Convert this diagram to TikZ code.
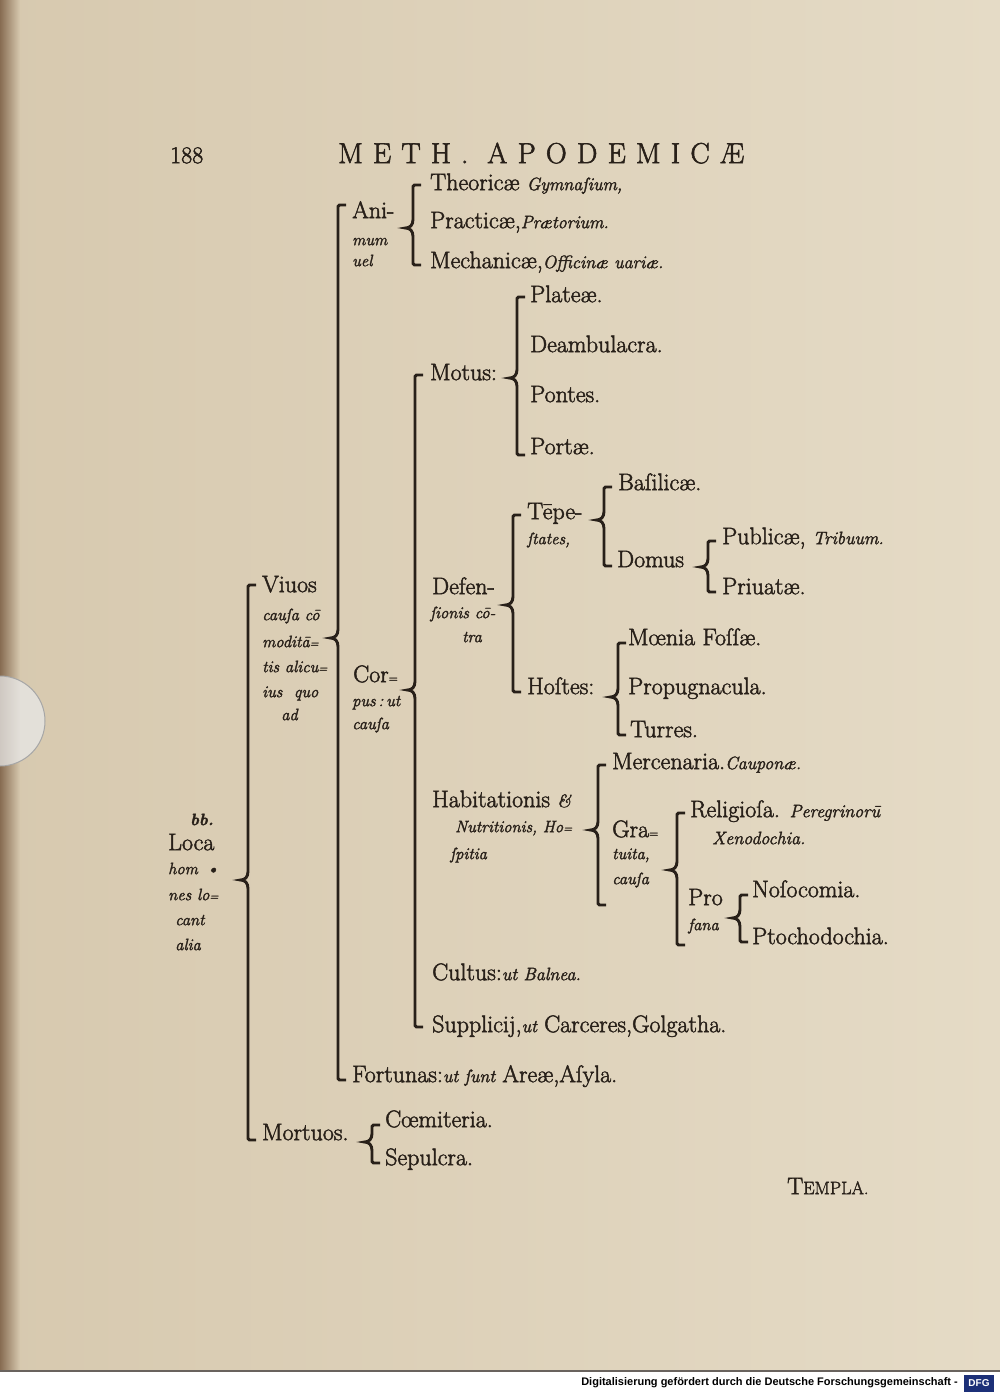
\documentclass[tikz,border=0pt]{standalone}
\usepackage{fontspec}
\setmainfont{Latin Modern Roman}[FakeBold=2]
\newfontfamily\dfgfont{Liberation Sans}
\definecolor{paper}{RGB}{229,219,198}
\definecolor{paperdark}{RGB}{215,201,175}
\definecolor{ink}{RGB}{40,32,25}
\definecolor{gutter}{RGB}{135,108,82}
\definecolor{dfgblue}{RGB}{28,48,120}
\newcommand\sm[1]{{\itshape\fontsize{18}{21}\selectfont #1}}
\newcommand\hy{{\fontsize{12}{12}\selectfont =}}
\newcommand\brk[4]{\draw[brk] (#1+8,#2) -- (#1,#2) -- (#1,#4-10) .. controls (#1,#4-3) and (#1-3,#4) .. (#1-9,#4) .. controls (#1-3,#4) and (#1,#4+3) .. (#1,#4+10) -- (#1,#3) -- (#1+8,#3);}
\begin{document}
\begin{tikzpicture}[x=1pt,y=-1pt,
  ro/.style={anchor=mid west,inner sep=0pt,text=ink,font=\fontsize{24}{27}\selectfont},
  it/.style={anchor=mid west,inner sep=0pt,text=ink,font=\itshape\fontsize{18}{21}\selectfont},
  lab/.style={anchor=mid west,inner sep=0pt,text=ink,font=\itshape\fontsize{16.5}{19}\selectfont},
  brk/.style={draw=ink,line width=2.9pt,rounded corners=1.5pt}]
\useasboundingbox (0,0) rectangle (1000,1393);
% page
\shade[left color=paperdark,right color=paper] (0,0) rectangle (1000,1372);
\shade[left color=gutter,right color=paperdark] (0,0) rectangle (20,1372);
\fill[white!82!gray,opacity=0.75] (0,676) arc[start angle=-90,end angle=90,radius=45] -- cycle;
\draw[gray!70,line width=1pt] (0,676) arc[start angle=-90,end angle=90,radius=45];
\fill[white] (0,1372) rectangle (1000,1393);
\draw[ink!70,line width=1.5pt] (0,1371) -- (1000,1371);
\node[anchor=east,inner sep=0pt,font=\dfgfont\bfseries\fontsize{11}{12}\selectfont] (dfgtext) at (958,1383) {Digitalisierung gefördert durch die Deutsche Forschungsgemeinschaft -};
\node[fill=dfgblue,text=white,inner sep=2pt,font=\dfgfont\bfseries\fontsize{10}{11}\selectfont,minimum width=30pt,minimum height=17pt] (dfglogo) at (979,1383) {DFG};
% header
\node[ro] (pg) at (170,161) {188};
\node[ro,font=\fontsize{29}{31}\selectfont\addfontfeature{LetterSpace=35}] (title) at (338,161) {METH. APODEMICÆ};
% Animum
\node[ro] (theor) at (430,188) {Theoricæ \sm{Gymnaſium,}};
\node[ro] (prac) at (430,226) {Practicæ,\sm{Prætorium.}};
\node[ro] (mech) at (430,266) {Mechanicæ,\sm{Officinæ uariæ.}};
\node[ro] (ani1) at (352,216) {Ani-};
\node[lab] (ani2) at (352,243) {mum};
\node[lab] (ani3) at (352,264) {uel};
% Motus
\node[ro] (plat) at (530,300) {Plateæ.};
\node[ro] (deam) at (530,350) {Deambulacra.};
\node[ro] (motus) at (430,378) {Motus:};
\node[ro] (pont) at (530,400) {Pontes.};
\node[ro] (port) at (530,452) {Portæ.};
% Defensionis
\node[ro] (basil) at (618,488) {Baſilicæ.};
\node[ro] (tempe1) at (527,517) {Tēpe-};
\node[lab] (tempe2) at (527,542) {ſtates,};
\node[ro] (publ) at (722,542) {Publicæ, \sm{Tribuum.}};
\node[ro] (domus) at (617,565) {Domus};
\node[ro] (priu) at (722,592) {Priuatæ.};
\node[ro] (def1) at (432,592) {Defen-};
\node[lab] (def2) at (430,616) {ſionis cō-};
\node[lab] (def3) at (462,640) {tra};
\node[ro] (moen) at (628,643) {Mœnia Foſſæ.};
\node[ro] (host) at (527,692) {Hoſtes:};
\node[ro] (prop) at (628,692) {Propugnacula.};
\node[ro] (turr) at (630,735) {Turres.};
% Viuos
\node[ro] (viu1) at (262,590) {Viuos};
\node[lab] (viu2) at (262,618) {cauſa cō};
\node[lab] (viu3) at (262,645) {moditā\hy};
\node[lab] (viu4) at (262,670) {tis alicu\hy};
\node[lab] (viu5) at (262,695) {ius \ quo};
\node[lab] (viu6) at (281,718) {ad};
% Corpus
\node[ro] (cor1) at (353,680) {Cor\hy};
\node[lab] (cor2) at (352,704) {pus\,:\,ut};
\node[lab] (cor3) at (352,727) {cauſa};
% Habitationis
\node[ro] (merc) at (612,767) {Mercenaria.\sm{Cauponæ.}};
\node[ro] (hab1) at (432,805) {Habitationis \sm{\&}};
\node[lab] (hab2) at (455,830) {Nutritionis, Ho\hy};
\node[lab] (hab3) at (450,857) {ſpitia};
\node[ro] (grat1) at (612,835) {Gra\hy};
\node[lab] (grat2) at (612,857) {tuita,};
\node[lab] (grat3) at (612,882) {cauſa};
\node[ro] (relig) at (690,815) {Religioſa. \sm{Peregrinorū}};
\node[it] (xeno) at (712,842) {Xenodochia.};
\node[ro] (noso) at (752,895) {Noſocomia.};
\node[ro] (pro1) at (688,903) {Pro};
\node[lab] (pro2) at (688,928) {fana};
\node[ro] (ptoch) at (752,942) {Ptochodochia.};
% root
\node[lab,font=\bfseries\itshape\fontsize{16.5}{19}\selectfont] (loca1) at (190,823) {bb.};
\node[ro] (loca2) at (168,848) {Loca};
\node[lab] (loca3) at (168,872) {hom \,•};
\node[lab] (loca4) at (168,898) {nes lo\hy};
\node[lab] (loca5) at (175,923) {cant};
\node[lab] (loca6) at (175,948) {alia};
% Cultus etc
\node[ro] (cult) at (432,978) {Cultus:\sm{ut Balnea.}};
\node[ro] (supp) at (432,1030) {Supplicij,\sm{ut} Carceres,Golgatha.};
\node[ro] (fort) at (352,1080) {Fortunas:\sm{ut ſunt} Areæ,Aſyla.};
\node[ro] (mort) at (262,1138) {Mortuos.};
\node[ro] (coem) at (385,1125) {Cœmiteria.};
\node[ro] (sepu) at (385,1163) {Sepulcra.};
\node[ro] (templa) at (787,1192) {T{\fontsize{18}{20}\selectfont EMPLA.}};
% braces
\brk{248}{585}{1140}{880}
\brk{338}{205}{1080}{638}
\brk{413}{185}{265}{228}
\brk{415}{375}{1027}{690}
\brk{517}{297}{455}{378}
\brk{513}{515}{692}{605}
\brk{604}{487}{566}{520}
\brk{708}{541}{592}{567}
\brk{618}{643}{735}{697}
\brk{598}{765}{905}{830}
\brk{677}{813}{945}{870}
\brk{740}{895}{942}{918}
\brk{372}{1125}{1163}{1142}
\end{tikzpicture}
\end{document}
